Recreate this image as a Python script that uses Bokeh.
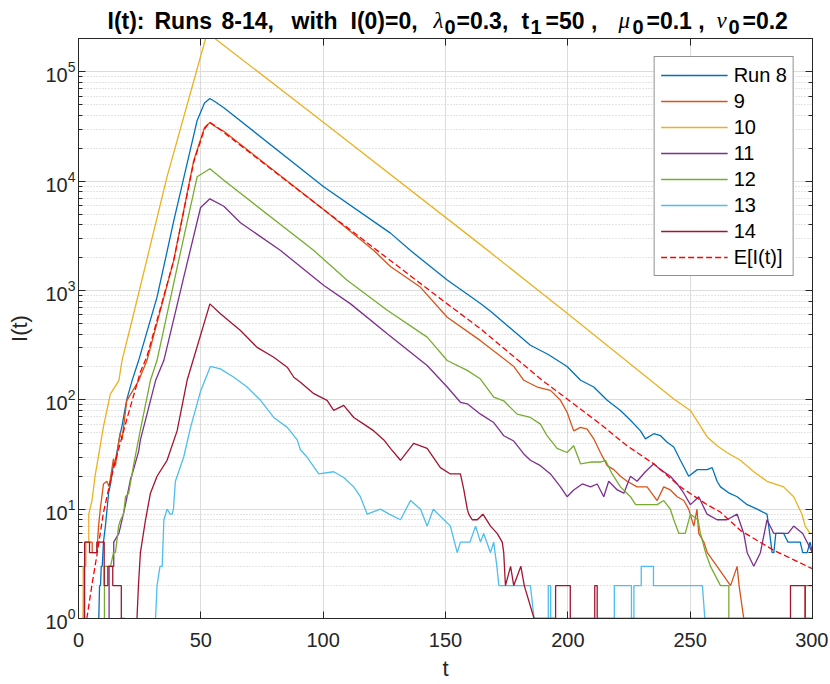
import math
from bokeh.plotting import figure
from bokeh.layouts import column
from bokeh.models import Range1d, LinearAxis, LogAxis, FixedTicker, CustomJSTickFormatter
from bokeh.core.properties import value
from bokeh.embed import file_html
from bokeh.resources import INLINE

nan = float("nan")

# ---------------- data ----------------
x_ticks = [0, 50, 100, 150, 200, 250, 300]
series_names = ["Run 8", "9", "10", "11", "12", "13", "14", "E[I(t)]"]

t8 = [8.3, 8.6, 9.0, 9.3, 9.7, 10.2, 11.0, 12.3, 13.1, 14.3, 15.1, 17.0, 17.8, 19.7, 21.9, 24.6,
      32.1, 39, 48.5, 51.5, 53.7, 56, 59.4, 100.2, 127.5, 135.7, 150.7, 164.3, 168.4, 184.7,
      192, 199.7, 205.2, 210.6, 216.1, 221.5, 225.6, 229.7, 231.7, 235.1, 237.9, 240.6,
      243.3, 246, 249.4, 252.9, 256.9, 259, 261, 262.4, 266, 269.2, 273.3, 277.4, 281.4,
      282.5, 283.5, 284.2, 285, 288.2, 290, 292.3, 295, 296, 297.8, 299, 300]
i8 = [1, 2, 2, 3, 3, 5, 7, 14, 17, 26, 28, 48, 58, 100, 150, 230,
      870, 4400, 36000, 52000, 57000, 53000, 47000, 8900, 3350, 2320, 1250, 760, 645, 316,
      260, 202, 151, 131, 99, 80, 65, 52, 44, 49, 47, 41,
      37, 28, 20, 23, 23, 24, 18, 16, 14, 13, 11, 10, 9,
      6, 4, 4, 6, 6, 5, 5, 5, 4, 4, 5, 4]

t9 = [2.0, 2.2, 2.9, 2.9, 5.6, 5.6, 7.5, 8.2, 8.9, 10.2, 11.6, 12.5, 14.3, 15.1, 17.0, 17.8,
      19.7, 24.6, 28, 38.9, 47.1, 51.5, 53.7, 56, 59.4, 100.2, 120.7, 127.5, 139.8, 150.7,
      164.3, 177.9, 182, 187.5, 192.9, 197, 199.7, 202.4, 205.2, 207.9, 210.6, 213.3,
      216.1, 218.8, 221.5, 224.2, 228.3, 232.4, 236.5, 239.2, 241.9, 244.7, 247.4, 249.4,
      251.5, 252.8, 253.5, 255.6, 257, 261, 266.5, 269.2, 270, 271.9, 297, 297, 300]
i9 = [1, 3, 3, 5, 5, 4, 4, 7, 10, 17, 18, 16, 29, 25, 50, 43,
      98, 150, 230, 1880, 15500, 31000, 34500, 31500, 28600, 5500, 2320, 1660, 1070, 570,
      348, 202, 151, 131, 122, 99, 77, 52, 56, 54, 44, 33,
      25, 23, 20, 18, 16, 16, 12, 16, 15, 13, 12, 10,
      7, 10, 6, 5, 4, 3, 2, 3, 2, 1, 1, 2, 2]

t10 = [1.5, 1.9, 1.9, 2.9, 2.9, 4.2, 4.2, 5.5, 6.9, 7.5, 10.2, 13.0, 16.5, 17.8, 22.6, 36.2,
       51.9, 53.7, 56, 100.2, 164.3, 199.7, 233.8, 243.3, 250.1, 256.9, 261, 265, 270.5,
       276, 281.4, 288.2, 292.3, 295.7, 297, 299, 300]
i10 = [1, 1, 3, 3, 5, 5, 9, 12, 21, 25, 57, 113, 150, 230, 620, 11000,
       200000, 240000, 200000, 34500, 2630, 620, 151, 102, 80, 46, 38, 33, 28,
       22, 18, 16, 13, 9, 7, 6, 6]

t11 = [12.5, 12.5, 14.4, 14.4, 16.5, 17.2, 19.2, 21.3, 22, 24.6, 25.3, 31.5, 34.9, 43, 49.9,
       53.7, 59.4, 66.2, 82.6, 100.3, 111.2, 126.2, 142.5, 150.7, 156.1, 158.9, 164.3,
       169.7, 173.8, 177.9, 182, 184.7, 188.8, 192.9, 197, 199.7, 202.4, 205.9, 209.3, 212,
       214.7, 216.7, 220.2, 222.9, 225.6, 228.3, 231.7, 235.1, 237.9, 241.9, 244.7, 247.4,
       250.1, 253.5, 256.9, 261, 265, 269.2, 271.9, 273.3, 276, 278.7, 281.4, 284.2, 290,
       292.3, 296, 300]
i11 = [1, 3, 3, 5, 6, 7, 11, 19, 21, 34, 43, 150, 230, 1320, 5750,
       6900, 5900, 4170, 2320, 1110, 755, 402, 206, 131, 95, 92, 74,
       62, 47, 42, 32, 28, 25, 21, 16, 13, 15, 17, 16, 17,
       13, 18, 15, 14, 20, 18, 22, 26, 23, 20, 17, 14,
       11, 13, 9, 8, 8, 9, 6, 4, 3, 4, 8, 6, 6,
       7, 6, 4]

t12 = [10.6, 10.6, 13.1, 14.3, 15.1, 16.4, 17.2, 18.4, 19.2, 20.5, 22.6, 25.3, 29.4, 32.1,
       40.3, 48.5, 53.7, 59.4, 96.2, 109.8, 126.2, 142.5, 150.7, 158.9, 164.3, 169.7, 173.8,
       179.3, 184.7, 188.8, 191.5, 195.6, 199.7, 202.4, 205.2, 209.3, 213.3, 215.4, 218.1,
       221.5, 225.6, 227.7, 232.4, 236.5, 239.2, 241.9, 243.3, 245.4, 248, 250.1, 253.2,
       254.2, 256.3, 258.3, 262.4, 265.8, 265.8]
i12 = [1, 3, 3, 4, 4, 7, 8, 9, 13, 14, 26, 53, 151, 230,
       1620, 11000, 13000, 10200, 2320, 1240, 660, 375, 229, 186, 155, 106, 98,
       74, 69, 60, 47, 36, 33, 38, 26, 27, 27, 28, 21,
       16, 13, 11, 11, 11, 12, 10, 8, 6, 6, 9, 8,
       6, 4, 3, 2, 2, 1]

t13 = [31.5, 32.1, 33.3, 34.2, 34.9, 36.2, 37.5, 38.3, 38.8, 39.6, 43, 45.8, 49.9, 53.9, 58,
       63.5, 68.9, 74.4, 79.8, 85.3, 89.4, 90.7, 93.4, 98.2, 104.3, 108.4, 112.5, 115.2,
       118, 123.4, 127, 131.6, 135.7, 139.8, 142.5, 145, 152, 154.8, 156.1, 160, 162.3,
       164.3, 165.6, 168.4, 169.7, 171, 171.8, 184.7, 186.2, 192, 192, 193, 193, 219, 219,
       226, 226, 227, 227, 230, 230, 235, 235, 255, 256, 300]
i13 = [1, 2, 3, 3, 8, 10, 9, 9, 10, 18, 30, 56, 120, 202, 192,
       161, 131, 99, 69, 56, 43, 35, 30, 21, 22, 19.5, 16, 13,
       9, 10, 9, 8, 12, 10, 7, 10, 7, 4, 5, 5, 7,
       5, 6, 4, 5, 3, 2, 2, 1, 1, 2, 2, 1, 1, 2,
       2, 1, 1, 2, 2, 3, 3, 2, 2, 1, 1]

t14 = [2.5, 2.5, 4.5, 4.5, 7.5, 7.5, 10.5, 10.5, 12, 12, 14, 14, 17.5, 17.5, 19, 19,
       23.9, 24.5, 25.3, 27.4, 29.4, 32.1, 36.2, 40.3, 44.4, 53.7, 58, 66.2, 73, 79.8, 85.3,
       88, 90.7, 96.2, 101.6, 104.3, 108.4, 112.5, 116.6, 120.7, 124.8, 127.5, 131.6, 137,
       142.5, 147.9, 152, 156.1, 157.5, 158.9, 159.5, 160.9, 163, 165.3, 168.4, 171.1,
       173.2, 173.8, 174.5, 176.6, 177.9, 180.8, 182.2, 186.2,
       195, 195, 201, 201, 211, 211, 212, 212, 291, 291, 297, 297, 300]
i14 = [1, 5, 5, 4, 4, 5, 5, 2, 2, 3, 3, 2, 2, 1, 1, nan,
       1, 2, 4, 8, 14, 20, 28, 52, 151, 755, 612, 431, 302, 245, 199,
       161, 145, 114, 99, 80, 89, 69, 60, 52, 43, 36, 28, 40,
       36, 24, 21, 21, 15, 10, 9, 8, 8, 9, 7, 6,
       5, 4, 2, 3, 2, 3, 2, 1,
       1, 2, 2, 1, 1, 2, 2, 1, 1, 2, 2, 1, 1]

tE = [3.4, 5.6, 7.6, 10.2, 13.0, 15.7, 19.7, 25.3, 28, 38.9, 47.1, 51.5, 53.5, 56, 100.2,
      150.7, 164.3, 189.5, 199.7, 213.3, 224.2, 235.1, 246, 256.9, 262.4, 270.5, 284.2, 300]
iE = [1, 2.1, 3.9, 9.3, 18, 31, 66, 180, 250, 1880, 15000, 30000, 34500, 32000, 5500,
      755, 447, 151, 102, 60, 38, 26, 16, 11, 9.4, 6.4, 4.2, 2.85]

title_parts = ["I(t):", "Runs", "8-14,", "with", "I(0)=0,", "=0.3,", "t", "=50 ,", "=0.1 ,", "=0.2"]
greek_parts = ["λ", "μ", "ν"]
sub_parts = ["0", "1", "0", "0"]

# ---------------- styling ----------------
colors = ["#0072BD", "#D95319", "#EDB120", "#7E2F8E", "#77AC30", "#4DBEEE", "#A2142F", "#FF0000"]
AX = "#262626"
FONT = "Liberation Sans"
XMAX = 300
YMIN, YMAX = 1, 2.02e5
BL, BR = 78, 16          # left / right borders shared by both strips
FW = 734                 # frame width
TH = 38                  # title strip height

# ---- title strip: same borders as the plot, x measured in page pixels ----
tf = figure(x_range=Range1d(BL, BL + FW), y_range=Range1d(0, TH),
            frame_width=FW, frame_height=TH,
            min_border_left=BL, min_border_right=BR, min_border_top=0, min_border_bottom=0,
            x_axis_location=None, y_axis_location=None,
            output_backend="svg", toolbar_location=None)
tf.outline_line_color = None
tf.grid.visible = False
BASE = TH - 20.0
SUB = TH - 26.5
title_x = [107, 154, 221, 291, 350, 456, 521, 545, 646, 742]
greek_x = [433, 618, 716]
sub_x = [444, 530, 632, 728]
tf.text(x=title_x, y=[BASE] * len(title_x), text=title_parts, text_font=value(FONT),
        text_font_size=value("23px"), text_font_style=value("bold"), text_color="black",
        text_align="left", text_baseline="alphabetic")
tf.text(x=greek_x, y=[BASE] * 3, text=greek_parts, text_font=value("Liberation Serif"),
        text_font_size=value("23px"), text_font_style=value("italic"), text_color="black",
        text_align="left", text_baseline="alphabetic")
tf.text(x=sub_x, y=[SUB] * 4, text=sub_parts, text_font=value(FONT),
        text_font_size=value("20px"), text_font_style=value("bold"), text_color="black",
        text_align="left", text_baseline="alphabetic")

# ---- main plot ----
p = figure(x_range=Range1d(0, XMAX), y_range=Range1d(YMIN, YMAX), y_axis_type="log",
           frame_width=FW, frame_height=580,
           min_border_left=BL, min_border_right=BR, min_border_top=0, min_border_bottom=62,
           output_backend="svg", toolbar_location=None)
p.outline_line_color = AX
p.outline_line_width = 1

p.xgrid.grid_line_color = "#dcdcdc"
p.ygrid.grid_line_color = "#dcdcdc"
p.ygrid.minor_grid_line_color = "#c8c8c8"
p.ygrid.minor_grid_line_dash = "1 2"
p.xgrid.ticker = FixedTicker(ticks=x_ticks)

xa = p.xaxis[0]
xa.ticker = FixedTicker(ticks=x_ticks)
ya = p.yaxis[0]
for ax in (xa, ya):
    ax.axis_line_color = AX
    ax.major_tick_line_color = AX
    ax.minor_tick_line_color = AX
    ax.major_tick_in = 7
    ax.major_tick_out = 0
    ax.minor_tick_in = 4
    ax.minor_tick_out = 0
    ax.major_label_text_color = AX
    ax.major_label_text_font = FONT
    ax.major_label_text_font_size = "20px"
    ax.axis_label_text_font = FONT
    ax.axis_label_text_font_size = "22px"
    ax.axis_label_text_font_style = "normal"
    ax.axis_label_text_color = AX
xa.minor_tick_line_color = None
xa.major_label_standoff = 14
xa.axis_label = "t"
xa.axis_label_standoff = 6
ya.major_label_standoff = 3
ya.axis_label = "I(t)"
ya.axis_label_standoff = 10

empty = CustomJSTickFormatter(code="return ''")
top = LinearAxis(ticker=FixedTicker(ticks=x_ticks), formatter=empty,
                 major_label_text_font_size="0px", major_label_standoff=0,
                 axis_line_color=AX, major_tick_line_color=AX, minor_tick_line_color=None,
                 major_tick_in=7, major_tick_out=0)
p.add_layout(top, "above")
right = LogAxis(formatter=empty, major_label_text_font_size="0px", major_label_standoff=0,
                axis_line_color=AX, major_tick_line_color=AX, minor_tick_line_color=AX,
                major_tick_in=7, major_tick_out=0, minor_tick_in=4, minor_tick_out=0)
p.add_layout(right, "right")

runs = [(t8, i8), (t9, i9), (t10, i10), (t11, i11), (t12, i12), (t13, i13), (t14, i14)]
for k, (tt, ii) in enumerate(runs):
    p.line(tt, ii, line_color=colors[k], line_width=1.3, legend_label=series_names[k])
p.line(tE, iE, line_color=colors[7], line_width=1.3, line_dash="6 3",
       legend_label=series_names[7])

lg = p.legend[0]
lg.location = "top_right"
lg.margin = 18
lg.padding = 6
lg.spacing = 2
lg.glyph_width = 67
lg.glyph_height = 24
lg.label_height = 24
lg.label_standoff = 6
lg.label_text_font = FONT
lg.label_text_font_size = "20px"
lg.label_text_color = "#000000"
lg.border_line_color = AX
lg.border_line_width = 1

layout = column(tf, p, spacing=0)
open("out.html", "w").write(file_html(layout, INLINE))
